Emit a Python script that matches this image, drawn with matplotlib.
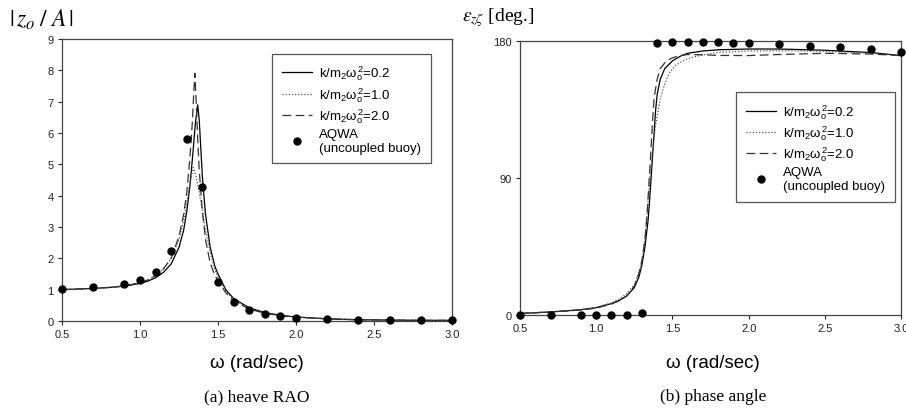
"""Heave RAO and phase angle of the buoy, three spring ratios vs AQWA."""

import matplotlib.pyplot as plt

plt.rcParams["font.family"] = ["Liberation Sans", "DejaVu Sans"]
plt.rcParams["mathtext.fontset"] = "custom"
plt.rcParams["mathtext.rm"] = "Liberation Sans"
plt.rcParams["mathtext.it"] = "Liberation Sans"

LABELS = [r"k/m$_2\omega_o^2$=0.2", r"k/m$_2\omega_o^2$=1.0", r"k/m$_2\omega_o^2$=2.0"]
AQWA_LABEL = "AQWA\n(uncoupled buoy)"

# AQWA points (same frequencies for both panels)
aqwa_w = [0.5, 0.7, 0.9, 1.0, 1.1, 1.2, 1.3, 1.4, 1.5, 1.6, 1.7, 1.8, 1.9, 2.0,
          2.2, 2.4, 2.6, 2.8, 3.0]
aqwa_rao = [1.03, 1.07, 1.18, 1.30, 1.57, 2.22, 5.82, 4.27, 1.23, 0.60, 0.36,
            0.23, 0.15, 0.10, 0.05, 0.03, 0.02, 0.02, 0.02]
aqwa_phase = [0.0, 0.0, 0.0, 0.0, 0.0, 0.0, 1.2, 179.0, 179.4, 179.4, 179.3,
              179.1, 178.9, 178.6, 178.2, 177.1, 176.0, 174.5, 172.6]

# heave RAO curves
rao_w_02 = [0.5, 0.6, 0.7, 0.8, 0.9, 1.0, 1.05, 1.1, 1.15, 1.2, 1.25, 1.28, 1.3,
            1.32, 1.34, 1.355, 1.37, 1.38, 1.39, 1.40, 1.42, 1.45, 1.48, 1.5,
            1.55, 1.6, 1.7, 1.8, 1.9, 2.0, 2.2, 2.4, 2.6, 2.8, 3.0]
rao_02 = [1.0, 1.02, 1.04, 1.07, 1.11, 1.20, 1.27, 1.38, 1.55, 1.82, 2.35, 2.9,
          3.5, 4.3, 5.4, 6.3, 6.9, 6.4, 5.5, 4.6, 3.4, 2.35, 1.75, 1.5, 1.0,
          0.72, 0.42, 0.27, 0.18, 0.13, 0.07, 0.04, 0.03, 0.02, 0.02]

rao_w_10 = [0.5, 0.6, 0.7, 0.8, 0.9, 1.0, 1.05, 1.1, 1.15, 1.2, 1.25, 1.28, 1.3,
            1.32, 1.342, 1.36, 1.38, 1.40, 1.42, 1.45, 1.48, 1.5, 1.55, 1.6,
            1.7, 1.8, 1.9, 2.0, 2.2, 2.4, 2.6, 2.8, 3.0]
rao_10 = [1.0, 1.02, 1.04, 1.07, 1.12, 1.22, 1.31, 1.45, 1.66, 2.0, 2.6, 3.2,
          3.8, 4.4, 4.9, 4.6, 4.1, 3.5, 2.9, 2.2, 1.65, 1.4, 0.95, 0.68, 0.40,
          0.26, 0.17, 0.12, 0.07, 0.04, 0.03, 0.02, 0.02]

rao_w_20 = [0.5, 0.6, 0.7, 0.8, 0.9, 1.0, 1.05, 1.1, 1.15, 1.2, 1.25, 1.28, 1.3,
            1.32, 1.335, 1.345, 1.352, 1.36, 1.37, 1.38, 1.40, 1.42, 1.45, 1.48,
            1.5, 1.55, 1.6, 1.7, 1.8, 1.9, 2.0, 2.2, 2.4, 2.6, 2.8, 3.0]
rao_20 = [1.0, 1.02, 1.04, 1.07, 1.12, 1.22, 1.31, 1.45, 1.66, 2.0, 2.7, 3.4,
          4.1, 5.2, 6.3, 7.3, 7.9, 7.0, 5.8, 4.8, 3.5, 2.6, 1.85, 1.45, 1.3,
          0.9, 0.65, 0.38, 0.25, 0.17, 0.12, 0.07, 0.04, 0.03, 0.02, 0.02]

# phase curves
ph_w_02 = [0.5, 0.6, 0.7, 0.8, 0.9, 1.0, 1.1, 1.15, 1.2, 1.25, 1.28, 1.3, 1.32,
           1.34, 1.35, 1.36, 1.37, 1.38, 1.39, 1.40, 1.42, 1.45, 1.5, 1.55, 1.6,
           1.7, 1.8, 2.0, 2.2, 2.5, 2.8, 3.0]
ph_02 = [1.0, 1.5, 2.0, 2.7, 3.5, 4.8, 7.5, 9.5, 12.5, 18, 25, 33, 45, 62, 75,
         90, 105, 120, 135, 145, 155, 162, 167, 170, 172, 173.5, 174.3, 174.8,
         174.8, 174.0, 172.5, 170.5]

ph_w_10 = [0.5, 0.6, 0.7, 0.8, 0.9, 1.0, 1.1, 1.15, 1.2, 1.25, 1.28, 1.3, 1.32,
           1.34, 1.353, 1.37, 1.39, 1.42, 1.45, 1.48, 1.52, 1.56, 1.6, 1.7, 1.8,
           2.0, 2.2, 2.5, 2.8, 3.0]
ph_10 = [1.0, 1.5, 2.0, 2.7, 3.5, 4.9, 8.0, 10.5, 14, 20, 28, 35, 50, 75, 90,
         108, 125, 142, 152, 159, 164, 166.5, 168.5, 171, 172.6, 173.5, 173.7,
         173.3, 172.0, 170.5]

ph_w_20 = [0.5, 0.6, 0.7, 0.8, 0.9, 1.0, 1.1, 1.15, 1.2, 1.25, 1.28, 1.3, 1.32,
           1.335, 1.348, 1.36, 1.37, 1.38, 1.40, 1.42, 1.46, 1.5, 1.55, 1.6,
           1.7, 1.8, 2.0, 2.2, 2.5, 2.8, 3.0]
ph_20 = [1.0, 1.5, 2.0, 2.6, 3.3, 4.5, 7.2, 9.3, 12.5, 19, 27, 36, 50, 68, 90,
         110, 128, 143, 155, 162, 167, 169, 170.5, 171.2, 171.0, 170.6, 170.5,
         171.2, 172.0, 171.5, 170.5]

X_TICKS = [0.5, 1.0, 1.5, 2.0, 2.5, 3.0]
X_TICK_LABELS = ["0.5", "1.0", "1.5", "2.0", "2.5", "3.0"]

STYLES = [
    dict(color="black", lw=0.9, ls="-"),
    dict(color="#555555", lw=0.9, ls=(0, (1, 1.5))),
    dict(color="#333333", lw=0.9, ls=(0, (7, 3.5))),
]


def style_axes(ax):
    for sp in ax.spines.values():
        sp.set_color("#444444")
        sp.set_linewidth(0.9)
    ax.tick_params(direction="out", length=3, width=0.8, colors="#222222",
                   labelsize=8, pad=3)
    ax.set_xlim(0.5, 3.0)
    ax.set_xticks(X_TICKS)
    ax.set_xticklabels(X_TICK_LABELS)


def draw_panel(ax, curves, aqwa_y, legend_anchor):
    handles = []
    for (w, v), lab, st in zip(curves, LABELS, STYLES):
        h, = ax.plot(w, v, label=lab, **st)
        handles.append(h)
    pts, = ax.plot(aqwa_w, aqwa_y, "o", color="black", ms=5, ls="none",
                   label=AQWA_LABEL, clip_on=False, zorder=5)
    handles.append(pts)
    leg = ax.legend(handles=handles, loc="upper right", bbox_to_anchor=legend_anchor,
                    fontsize=9.5, fancybox=False, framealpha=1, edgecolor="#555555",
                    handlelength=2.3, handletextpad=0.5, labelspacing=0.2,
                    borderpad=0.75, borderaxespad=0)
    leg.get_frame().set_linewidth(0.9)


fig = plt.figure(figsize=(9.06, 4.10), dpi=100)
ax1 = fig.add_axes([0.0684, 0.2146, 0.4305, 0.688])
ax2 = fig.add_axes([0.574, 0.2293, 0.4205, 0.668])

style_axes(ax1)
draw_panel(ax1, [(rao_w_02, rao_02), (rao_w_10, rao_10), (rao_w_20, rao_20)],
           aqwa_rao, (0.946, 0.947))
ax1.set_ylim(0, 9)
ax1.set_yticks(range(0, 10))

style_axes(ax2)
draw_panel(ax2, [(ph_w_02, ph_02), (ph_w_10, ph_10), (ph_w_20, ph_20)],
           aqwa_phase, (0.984, 0.814))
ax2.set_ylim(0, 180)
ax2.set_yticks([0, 90, 180])

# axis titles and captions
fig.text(9 / 906, 1 - 20 / 410, r"$|\,z_o\;/\;A\,|$", fontsize=17,
         math_fontfamily="stix", va="center", ha="left")
fig.text(462 / 906, 1 - 18 / 410, r"$\varepsilon_{z\zeta}$ [deg.]", fontsize=14,
         family="Liberation Serif", math_fontfamily="stix", va="center", ha="left")

for xc, cap in [(257 / 906, "(a) heave RAO"), (713 / 906, "(b) phase angle")]:
    fig.text(xc, 1 - 364 / 410, "\u03c9 (rad/sec)", fontsize=13.5, ha="center",
             va="center")
    fig.text(xc, 1 - 397 / 410, cap, fontsize=12.5, family="Liberation Serif",
             ha="center", va="center")

fig.savefig("out.png", dpi=100)
